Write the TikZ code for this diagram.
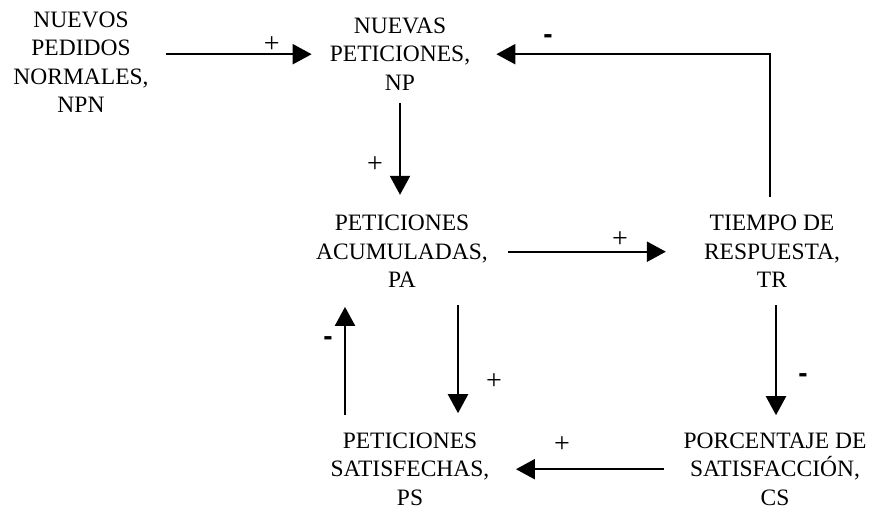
\documentclass[tikz,border=0pt]{standalone}
\usepackage{fontspec}
\setmainfont{Liberation Serif}
\newfontfamily\signfont{Liberation Sans}
\usetikzlibrary{arrows.meta}
\tikzset{
  var/.style={align=center, inner sep=0pt, font=\fontsize{23.5}{28.5}\selectfont},
  arr/.style={line width=2.2pt, -{Triangle[length=19pt,width=20pt]}},
  plus/.style={inner sep=0pt, font=\fontsize{28}{30}\selectfont},
  minus/.style={inner sep=0pt, font=\signfont\bfseries\fontsize{28}{30}\selectfont}
}
\begin{document}
\begin{tikzpicture}[x=1pt,y=-1pt]
\useasboundingbox (0,0) rectangle (874,511);
\node[var] (npn) at (81,62) {NUEVOS\\PEDIDOS\\NORMALES,\\NPN};
\node[var] (np) at (400,54.2) {NUEVAS\\PETICIONES,\\NP};
\node[var] (pa) at (402,251.7) {PETICIONES\\ACUMULADAS,\\PA};
\node[var] (tr) at (772,251.7) {TIEMPO DE\\RESPUESTA,\\TR};
\node[var] (ps) at (410,469.2) {PETICIONES\\SATISFECHAS,\\PS};
\node[var] (cs) at (775,469.2) {PORCENTAJE DE\\SATISFACCIÓN,\\CS};

\draw[arr, shorten <=17.4pt, shorten >=18pt] (npn.east |- np.west) -- (np.west);
\draw[arr, shorten <=18.7pt, shorten >=26pt] ([xshift=-2pt]tr.north) |- (np.east);
\draw[arr, shorten <=12.5pt, shorten >=20.4pt] (np.south) -- (np.south |- pa.north);
\draw[arr, shorten <=20.2pt, shorten >=38pt] (pa.east |- tr.west) -- (tr.west);
\draw[arr, shorten <=17pt, shorten >=19.4pt] ([xshift=56pt]pa.south) -- ([xshift=48pt]ps.north);
\draw[arr, shorten <=17.4pt, shorten >=18.7pt] ([xshift=-65pt]ps.north) -- ([xshift=-57pt]pa.south);
\draw[arr, shorten <=17pt, shorten >=17.4pt] ([xshift=4pt]tr.south) -- ([xshift=1pt]cs.north);
\draw[arr, shorten <=19pt, shorten >=26.4pt] (cs.west) -- (cs.west -| ps.east);

\node[plus] (s1) at (271.7,45) {+};
\node[minus] (s2) at (548,39) {-};
\node[plus] (s3) at (375,165) {+};
\node[plus] (s4) at (620,240) {+};
\node[plus] (s5) at (494,382) {+};
\node[minus] (s6) at (328,341) {-};
\node[minus] (s7) at (803,378) {-};
\node[plus] (s8) at (562,445) {+};
\end{tikzpicture}
\end{document}
